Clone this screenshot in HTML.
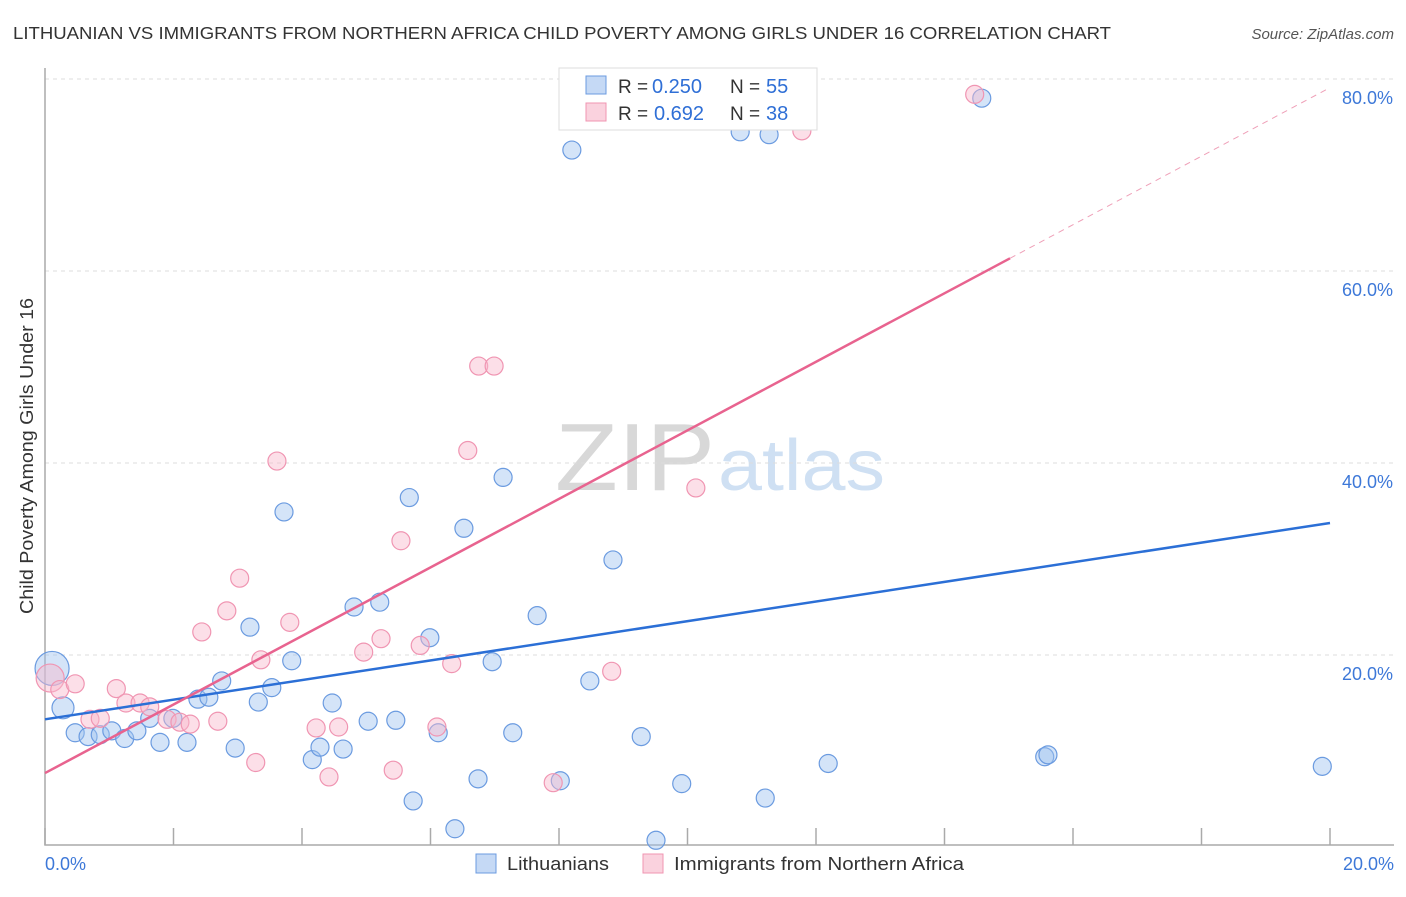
<!DOCTYPE html>
<html><head><meta charset="utf-8"><style>
body{margin:0;background:#fff;font-family:"Liberation Sans",sans-serif;}
svg text{font-family:"Liberation Sans",sans-serif;}
</style></head><body>
<svg id="chart" width="1406" height="892" viewBox="0 0 1406 892" xmlns="http://www.w3.org/2000/svg">
<text x="13" y="39" font-size="17.5" fill="#333" textLength="1098" lengthAdjust="spacingAndGlyphs">LITHUANIAN VS IMMIGRANTS FROM NORTHERN AFRICA CHILD POVERTY AMONG GIRLS UNDER 16 CORRELATION CHART</text>
<text x="1394" y="39" font-size="15" fill="#555" font-style="italic" text-anchor="end">Source: ZipAtlas.com</text>
<text x="555" y="490" font-size="96" fill="#d8d8d8" textLength="160" lengthAdjust="spacingAndGlyphs" font-family="Liberation Serif">ZIP</text>
<text x="718" y="490" font-size="72" fill="#cfe0f3" textLength="167" lengthAdjust="spacingAndGlyphs">atlas</text>
<g id="grid"></g>
<g id="axes"></g>
<g id="points"></g>
<g id="lines"></g>
<text x="33" y="456" font-size="18" fill="#333" text-anchor="middle" textLength="316" lengthAdjust="spacingAndGlyphs" transform="rotate(-90 33 456)">Child Poverty Among Girls Under 16</text>
<g>
<rect x="559" y="68" width="258" height="62" fill="#fff" stroke="#ddd"/>
<rect x="586" y="76" width="20" height="18" fill="#c5d9f5" stroke="#6b9be0"/>
<rect x="586" y="103" width="20" height="18" fill="#fad2de" stroke="#f095b2"/>
<text x="618" y="93" font-size="19" fill="#333">R =</text><text x="652" y="93" font-size="20" fill="#2f6fd6">0.250</text>
<text x="730" y="93" font-size="19" fill="#333">N =</text><text x="766" y="93" font-size="20" fill="#2f6fd6">55</text>
<text x="618" y="120" font-size="19" fill="#333">R =</text><text x="654" y="120" font-size="20" fill="#2f6fd6">0.692</text>
<text x="730" y="120" font-size="19" fill="#333">N =</text><text x="766" y="120" font-size="20" fill="#2f6fd6">38</text>
</g>
<g>
<rect x="476" y="854" width="20" height="19" fill="#c5d9f5" stroke="#6b9be0"/>
<text x="507" y="870" font-size="18" fill="#333" textLength="102" lengthAdjust="spacingAndGlyphs">Lithuanians</text>
<rect x="643" y="854" width="20" height="19" fill="#fad2de" stroke="#f095b2"/>
<text x="674" y="870" font-size="18" fill="#333" textLength="290" lengthAdjust="spacingAndGlyphs">Immigrants from Northern Africa</text>
</g>
</svg>
<script>
const blueX=[0.11,0.28,0.47,0.67,0.86,1.04,1.24,1.43,1.63,1.79,1.99,2.21,2.38,2.55,2.75,2.96,3.19,3.32,3.53,3.72,3.84,4.16,4.28,4.47,4.64,4.81,5.03,5.21,5.46,5.67,5.73,5.99,6.12,6.38,6.52,6.74,6.96,7.13,7.28,7.66,8.02,8.20,8.48,8.84,9.28,9.51,9.91,10.82,11.21,11.27,12.19,14.58,15.56,15.61,19.88];
const blueY=[18.6,14.5,11.9,11.5,11.7,12.1,11.3,12.1,13.4,10.9,13.4,10.9,15.4,15.6,17.3,10.3,22.9,15.1,16.6,34.9,19.4,9.1,10.4,15.0,10.2,25.0,13.1,25.5,13.2,36.4,4.8,21.8,11.9,1.9,33.2,7.1,19.3,38.5,11.9,24.1,6.9,72.6,17.3,29.9,11.5,0.7,6.6,74.5,5.1,74.2,8.7,78.0,9.4,9.6,8.4];
const pinkX=[0.08,0.23,0.47,0.70,0.86,1.11,1.26,1.48,1.63,1.90,2.10,2.26,2.44,2.69,2.83,3.03,3.28,3.36,3.61,3.81,4.22,4.42,4.57,4.96,5.23,5.42,5.54,5.84,6.10,6.33,6.58,6.75,6.99,7.91,8.82,10.13,11.78,14.47];
const pinkY=[17.6,16.4,17.0,13.3,13.4,16.5,15.0,15.0,14.6,13.3,13.0,12.8,22.4,13.1,24.6,28.0,8.8,19.5,40.2,23.4,12.4,7.3,12.5,20.3,21.7,8.0,31.9,21.0,12.5,19.1,41.3,50.1,50.1,6.7,18.3,37.4,74.6,78.4];
const blueTrend=[13.3,33.75];
const pinkTrend=[7.7,79.1];
const yTicks=[20,40,60,80];
const yTickLabels=["20.0%","40.0%","60.0%","80.0%"];
const xTicks=[0,2,4,6,8,10,12,14,16,18,20];

const NS="http://www.w3.org/2000/svg";
const sx=v=>45+v*1285/20;
const sy=v=>847-v*9.6;
function mk(tag,attrs,parent){const e=document.createElementNS(NS,tag);for(const k in attrs)e.setAttribute(k,attrs[k]);document.getElementById(parent).appendChild(e);return e;}

yTicks.forEach((t,i)=>{
  const g=mk('line',{x1:45,x2:1394,y1:sy(t),y2:sy(t),stroke:'#ddd','stroke-dasharray':'4,4'},'grid');
  
  
  const l=mk('text',{x:1393,y:sy(t)+25,'font-size':18,fill:'#3d78d8','text-anchor':'end'},'grid');
  l.textContent=yTickLabels[i];
  
  
});
const ax=mk('path',{d:'M45,68 V845 H1394',fill:'none',stroke:'#aaa','stroke-width':1.5},'axes');


xTicks.forEach(t=>{
  const tk=mk('line',{x1:sx(t),x2:sx(t),y1:828,y2:845,stroke:'#aaa','stroke-width':1.5},'axes');
  
  
});
const xl0=mk('text',{x:45,y:870,'font-size':18,fill:'#3d78d8'},'axes');xl0.textContent='0.0%';


const xl1=mk('text',{x:1394,y:870,'font-size':18,fill:'#3d78d8','text-anchor':'end'},'axes');xl1.textContent='20.0%';



blueX.forEach((x,i)=>{
  const c=mk('circle',{cx:sx(x),cy:sy(blueY[i]),r:i===0?17:(i===1?11:9),fill:'rgba(160,195,240,0.45)',stroke:'#6b9be0','stroke-width':1.2},'points');
  
  
});
pinkX.forEach((x,i)=>{
  const c=mk('circle',{cx:sx(x),cy:sy(pinkY[i]),r:i===0?14:9,fill:'rgba(248,185,205,0.45)',stroke:'#f095b2','stroke-width':1.2},'points');
  
  
});
const bl=mk('line',{x1:sx(0),y1:sy(blueTrend[0]),x2:sx(20),y2:sy(blueTrend[1]),stroke:'#2b6fd6','stroke-width':2.5},'lines');


const xs=15.02, ys=pinkTrend[0]+(pinkTrend[1]-pinkTrend[0])*xs/20;
const pl=mk('line',{x1:sx(0),y1:sy(pinkTrend[0]),x2:sx(xs),y2:sy(ys),stroke:'#e8638f','stroke-width':2.5},'lines');


const pd=mk('line',{x1:sx(xs),y1:sy(ys),x2:sx(20),y2:sy(pinkTrend[1]),stroke:'#efa0b8','stroke-width':1,'stroke-dasharray':'6,5'},'lines');


</script>
</body></html>
